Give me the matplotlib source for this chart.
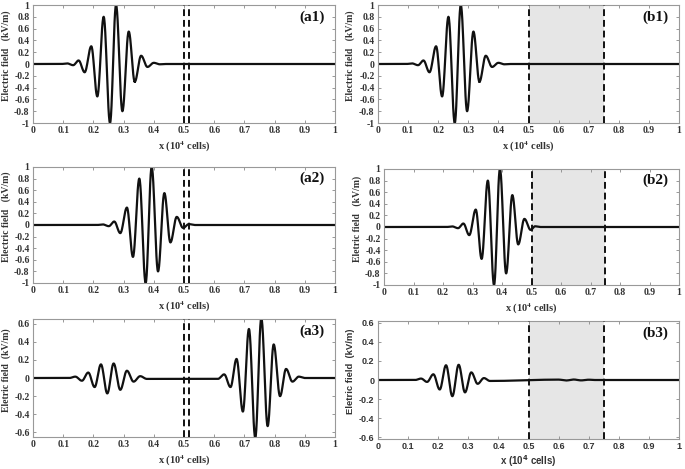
import numpy as np
import matplotlib
matplotlib.use('Agg')
import matplotlib.pyplot as plt

# extrema of each wave packet (x in 10^4 cells, field in kV/m)
a1_x = [0.113, 0.133, 0.151, 0.171, 0.193, 0.213, 0.234, 0.255, 0.275, 0.296, 0.317, 0.337, 0.358, 0.379, 0.400, 0.420]
a1_y = [0.01, -0.02, 0.06, -0.14, 0.30, -0.55, 0.80, -1.00, 1.00, -0.80, 0.55, -0.30, 0.14, -0.05, 0.02, -0.005]

a2_x = [0.231, 0.251, 0.269, 0.289, 0.311, 0.331, 0.352, 0.373, 0.393, 0.414, 0.435, 0.455, 0.476, 0.497, 0.516]
a2_y = [0.01, -0.02, 0.06, -0.14, 0.30, -0.55, 0.80, -1.00, 1.00, -0.80, 0.55, -0.30, 0.14, -0.05, 0.015]

a3_x = [0.140, 0.162, 0.183, 0.204, 0.225, 0.246, 0.267, 0.289, 0.311, 0.333, 0.355, 0.377,
        0.612, 0.633, 0.654, 0.674, 0.695, 0.715, 0.736, 0.756, 0.777, 0.797, 0.818, 0.838, 0.859, 0.880]
a3_y = [0.015, -0.03, 0.06, -0.10, 0.15, -0.17, 0.16, -0.13, 0.08, -0.04, 0.02, -0.01,
        -0.01, 0.04, -0.10, 0.21, -0.37, 0.54, -0.66, 0.66, -0.53, 0.37, -0.20, 0.10, -0.04, 0.015]

b1_x = a1_x
b1_y = a1_y
b2_x = [0.231, 0.251, 0.269, 0.289, 0.311, 0.331, 0.352, 0.373, 0.393, 0.414, 0.435, 0.455, 0.476, 0.497, 0.512]
b2_y = [0.01, -0.02, 0.06, -0.14, 0.30, -0.55, 0.80, -1.00, 1.00, -0.80, 0.55, -0.30, 0.14, -0.05, 0.012]
b3_x = [0.143, 0.163, 0.184, 0.205, 0.226, 0.247, 0.268, 0.289, 0.310, 0.331, 0.352, 0.372,
        0.600, 0.625, 0.650, 0.675, 0.700]
b3_y = [0.015, -0.02, 0.06, -0.10, 0.155, -0.17, 0.16, -0.13, 0.08, -0.04, 0.02, -0.01,
        0.004, -0.005, 0.005, -0.004, 0.003]

xticks = [0, 0.1, 0.2, 0.3, 0.4, 0.5, 0.6, 0.7, 0.8, 0.9, 1]
yticks_big = [-1, -0.8, -0.6, -0.4, -0.2, 0, 0.2, 0.4, 0.6, 0.8, 1]
yticks_small = [-0.6, -0.4, -0.2, 0, 0.2, 0.4, 0.6]

slab_a = [0.5, 0.515]
slab_b = [0.5, 0.75]

labels = ['(a1)', '(a2)', '(a3)', '(b1)', '(b2)', '(b3)']
ylabels = ['Electric field   (kV/m)', 'Electric field   (kV/m)', 'Eletric field  (kV/m)',
           'Electric field   (kV/m)', 'Eletric field   (kV/m)', 'Eletric field  (kV/m)']


def trace(xs, ys):
    # join the read extrema with half-cosine segments
    px = [0.0, xs[0] - 0.02] + list(xs) + [xs[-1] + 0.02, 1.0]
    py = [0.0, 0.0] + list(ys) + [0.0, 0.0]
    X, Y = [], []
    for i in range(len(px) - 1):
        t = np.linspace(0, 1, 25)
        X.extend(px[i] + (px[i + 1] - px[i]) * t)
        Y.extend(py[i] + (py[i + 1] - py[i]) * (1 - np.cos(np.pi * t)) / 2)
    return X, Y


W, H = 685, 469
boxes = {
    '(a1)': (33, 335, 5, 123),
    '(b1)': (378, 679, 5, 123),
    '(a2)': (33, 335, 167, 283),
    '(b2)': (384, 679, 169, 285),
    '(a3)': (33, 335, 319, 437),
    '(b3)': (378, 679, 321, 439),
}
series = {
    '(a1)': (a1_x, a1_y), '(a2)': (a2_x, a2_y), '(a3)': (a3_x, a3_y),
    '(b1)': (b1_x, b1_y), '(b2)': (b2_x, b2_y), '(b3)': (b3_x, b3_y),
}

fig = plt.figure(figsize=(W / 100, H / 100), dpi=100)
tc = '#333333'

for lab, yl in zip(labels, ylabels):
    l, r, t, b = boxes[lab]
    ax = fig.add_axes([l / W, 1 - b / H, (r - l) / W, (b - t) / H])
    sans = lab == '(b3)'
    fam = 'Liberation Sans' if sans else 'Liberation Serif'
    mfam = 'dejavusans' if sans else 'stix'

    if lab.startswith('(b'):
        ax.axvspan(slab_b[0], slab_b[1], color='#e6e6e6', lw=0, zorder=0)
        dl = slab_b
    else:
        dl = slab_a
    for xv in dl:
        ax.axvline(xv, color='#111111', ls=(0, (3.5, 2)), lw=1.4, zorder=3)

    xs, ys = series[lab]
    X, Y = trace(xs, ys)
    ax.plot(X, Y, color='#111111', lw=1.6, zorder=2)

    if lab == '(a3)':
        ax.set_ylim(-0.65, 0.65)
        yt = yticks_small
    elif lab == '(b3)':
        ax.set_ylim(-0.62, 0.62)
        yt = yticks_small
    else:
        ax.set_ylim(-1, 1)
        yt = yticks_big
    ax.set_xlim(0, 1)
    ax.set_xticks(xticks)
    ax.set_yticks(yt)
    tfs = 6.5 if sans else 7
    ax.set_xticklabels(['%g' % v for v in xticks], fontfamily=fam, fontweight='bold', fontsize=tfs, color=tc)
    ax.set_yticklabels(['%g' % v for v in yt], fontfamily=fam, fontweight='bold', fontsize=tfs, color=tc)
    ax.tick_params(direction='in', length=2.5, width=0.6, top=True, right=True, pad=2.5, colors='#888888',
                   labelcolor=tc)
    for s in ax.spines.values():
        s.set_color('#999999')
        s.set_linewidth(0.8)

    ax.set_xlabel(r'x (10$^{\mathbf{4}}$ cells)', fontfamily=fam, fontweight='bold',
                  fontsize=7 if sans else 7.5, color=tc,
                  math_fontfamily=mfam, labelpad=1.5 if sans else 3)
    ax.set_ylabel(yl, fontfamily=fam, fontweight='bold', fontsize=7 if not sans else 6.8, color=tc)
    ax.yaxis.set_label_coords(-0.072 if lab[1] == 'a' else -0.075, 0.57)
    ax.text(0.965, 0.9, lab, transform=ax.transAxes, ha='right', va='center',
            fontfamily='Liberation Serif', fontweight='bold', fontsize=11, color='#111111')

fig.savefig('out.png', dpi=100)
